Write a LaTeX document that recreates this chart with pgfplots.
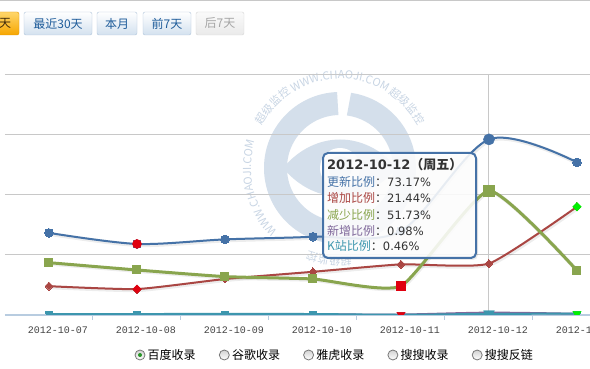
\documentclass[border=0pt]{standalone}
\usepackage{pgfplots}
\usepackage{pgfplotstable}
\pgfplotsset{compat=1.18}
\usepackage{fontspec}
\setmainfont{Liberation Sans}
\newfontfamily\cjk{Noto Sans CJK SC}
\newfontfamily\mono{Liberation Mono}
\newfontfamily\dv{DejaVu Sans}
\usetikzlibrary{decorations.text}
\definecolor{hcblue}{HTML}{4572A7}
\definecolor{hcred}{HTML}{AA4643}
\definecolor{hcgreen}{HTML}{89A54E}
\definecolor{hcpurple}{HTML}{80699B}
\definecolor{hcteal}{HTML}{3D96AE}
\definecolor{minred}{HTML}{E0000F}
\definecolor{maxgreen}{HTML}{00F000}
\definecolor{gridc}{HTML}{C8C8C8}
\definecolor{axisc}{HTML}{B8CCE0}
\definecolor{wm}{HTML}{D4DFEB}
\definecolor{wmt}{HTML}{C8D5E4}
\definecolor{btntext}{HTML}{1E5C9A}
\definecolor{btnborder}{HTML}{B0C4DA}
\definecolor{btnbot}{HTML}{D3E1EF}
\definecolor{labc}{HTML}{444444}
\definecolor{textc}{HTML}{333333}
\definecolor{orbord}{HTML}{E49600}
\definecolor{ortop}{HTML}{FFD66A}
\definecolor{orbot}{HTML}{F6A600}
\definecolor{ortext}{HTML}{3C280A}
\definecolor{disbord}{HTML}{D6D6D6}
\definecolor{distop}{HTML}{FAFAFA}
\definecolor{disbot}{HTML}{EAEAEA}
\definecolor{distext}{HTML}{A5A5A5}
\definecolor{radbord}{HTML}{787878}
\definecolor{radtop}{HTML}{D2D2D2}
\definecolor{raddot}{HTML}{289628}

\pgfplotstableread{
x blue red green purple teal
0 34.2 12.0 21.8 0.3 0.4
1 29.6 10.8 18.75 0.3 0.4
2 31.5 15.0 16.0 0.4 0.45
3 32.6 18.0 15.0 0.3 0.4
4 35.0 21.1 12.1 0.2 0.1
5 73.17 21.44 51.73 0.98 0.46
6 63.6 45.1 18.5 0.5 0.55
}\data

\begin{document}
\begin{tikzpicture}[x=1pt,y=1pt]
\useasboundingbox (0,0) rectangle (590,369);
\clip (0,0) rectangle (590,369);
\fill[white] (0,0) rectangle (590,369);
% top separator
\draw[gridc, line width=1pt] (0,368.5) -- (590,368.5);
% buttons
\draw[rounded corners=2pt, draw=orbord, top color=ortop, bottom color=orbot] (-8,334) rectangle (19,357);
\node[font=\cjk\fontsize{12}{12}\selectfont, text=ortext] at (5,345.5) {天};
\draw[rounded corners=2pt, draw=btnborder, top color=white, bottom color=btnbot] (24,334) rectangle (92,357);
\node[font=\cjk\fontsize{12}{12}\selectfont, text=btntext] at (58,345.5) {最近30天};
\draw[rounded corners=2pt, draw=btnborder, top color=white, bottom color=btnbot] (97,334) rectangle (137,357);
\node[font=\cjk\fontsize{12}{12}\selectfont, text=btntext] at (117,345.5) {本月};
\draw[rounded corners=2pt, draw=btnborder, top color=white, bottom color=btnbot] (143,334) rectangle (191,357);
\node[font=\cjk\fontsize{12}{12}\selectfont, text=btntext] at (167,345.5) {前7天};
\draw[rounded corners=2pt, draw=disbord, top color=distop, bottom color=disbot] (196,334) rectangle (244,357);
\node[font=\cjk\fontsize{12}{12}\selectfont, text=distext] at (220,345.5) {后7天};

% watermark
\begin{scope}[shift={(340,201)}]
  \draw[wm, line width=23pt] (92:64.5) arc (92:442:64.5);
  \fill[wm] (-57,0) .. controls (-25,38) and (25,38) .. (57,0) .. controls (25,-38) and (-25,-38) .. (-57,0) -- cycle;
  \fill[white] (0,0) circle (20);
  \fill[wm] (0,0) circle (12);
  \path[decorate, decoration={text along path, text align=center,
     text={|\cjk\fontsize{11}{11}\selectfont\color{wmt}|超级监控 WWW.CHAOJI.COM 超级监控}}]
     (160:89) arc (160:20:89);
  \path[decorate, decoration={text along path, text align=right,
     text={|\cjk\fontsize{11}{11}\selectfont\color{wmt}|WWW.CHAOJI.COM}}]
     (245:89) arc (245:162:89);
  \path[decorate, decoration={text along path, text align=right,
     text={|\cjk\fontsize{11}{11}\selectfont\color{wmt}|超级监控}}]
     (290:89) arc (290:249:89);
\end{scope}

% legend
\foreach \x/\t in {140/百度收录, 224.3/谷歌收录, 308.6/雅虎收录, 392.9/搜搜收录, 477.2/搜搜反链} {
  \draw[draw=radbord, line width=0.8pt, top color=radtop, bottom color=white] (\x,14) circle (5);
  \node[anchor=west, inner sep=0, font=\cjk\fontsize{12}{12}\selectfont] at (\x+7.5,14) {\t};
}
\fill[raddot] (140,14) circle (2);

\begin{axis}[
  at={(5pt,54pt)}, anchor=south west, scale only axis,
  width=616pt, height=240pt,
  xmin=-0.5, xmax=6.5, ymin=0, ymax=100,
  axis line style={draw=none},
  ytick={25,50,75,100}, yticklabels={}, ymajorgrids,
  grid style={gridc, line width=1pt},
  y tick style={draw=none},
  extra y ticks={0}, extra y tick labels={},
  extra y tick style={grid style={axisc, line width=1.5pt}},
  xtick={0,1,2,3,4,5,6},
  xticklabels={2012-10-07,2012-10-08,2012-10-09,2012-10-10,2012-10-11,2012-10-12,2012-10-13},
  x tick style={draw=none},
  tick pos=left, tick align=outside, major tick length=5pt,
  extra x ticks={0.5,1.5,2.5,3.5,4.5,5.5},
  extra x tick labels={},
  extra x tick style={x tick style={draw=axisc, line width=1pt}},
  xticklabel style={font=\mono\fontsize{10}{10}\selectfont, text=labc, xshift=9pt, yshift=-3pt},
  clip marker paths=true,
]
\draw[gridc, line width=1pt] (axis cs:5,0) -- (axis cs:5,100);
% shadows
\addplot[forget plot, smooth, draw=black, opacity=0.07, line width=4pt, xshift=1pt, yshift=-1pt] table[x=x,y=blue] {\data};
\addplot[forget plot, smooth, tension=0.3, draw=black, opacity=0.07, line width=4pt, xshift=1pt, yshift=-1pt] table[x=x,y=red] {\data};
\addplot[forget plot, smooth, tension=0.3, draw=black, opacity=0.07, line width=4pt, xshift=1pt, yshift=-1pt] table[x=x,y=green] {\data};
% series
\addplot[smooth, hcblue, line width=2pt, mark=*, mark size=4.3pt, mark options={solid, fill=hcblue, draw=hcblue, line width=0pt}] table[x=x,y=blue] {\data};
\addplot[forget plot, only marks, mark=*, mark size=4.5pt, mark options={fill=minred, draw=minred}] coordinates {(1,29.6)};
\addplot[forget plot, only marks, mark=*, mark size=5.6pt, mark options={fill=hcblue, draw=hcblue}] coordinates {(5,73.17)};

\addplot[smooth, tension=0.3, hcred, line width=2pt, mark=square*, mark size=2.8pt, mark options={solid, rotate=45, fill=hcred, draw=hcred, line width=0pt}] table[x=x,y=red] {\data};
\addplot[forget plot, only marks, mark=square*, mark size=3pt, mark options={rotate=45, fill=minred, draw=minred}] coordinates {(1,10.8)};
\addplot[forget plot, only marks, mark=square*, mark size=3pt, mark options={rotate=45, fill=maxgreen, draw=maxgreen}] coordinates {(6,45.1)};

\addplot[smooth, tension=0.3, hcgreen, line width=3pt, mark=square*, mark size=4pt, mark options={solid, fill=hcgreen, draw=hcgreen, line width=0pt}] table[x=x,y=green] {\data};
\addplot[forget plot, only marks, mark=square*, mark size=4.4pt, mark options={fill=minred, draw=minred}] coordinates {(4,12.1)};
\addplot[forget plot, only marks, mark=square*, mark size=5.5pt, mark options={fill=hcgreen, draw=hcgreen}] coordinates {(5,51.73)};

\addplot[smooth, hcpurple, line width=2pt] table[x=x,y=purple] {\data};

\addplot[smooth, hcteal, line width=2pt, mark=triangle*, mark size=4.6pt, mark options={solid, rotate=180, fill=hcteal, draw=hcteal, line width=0pt}] table[x=x,y=teal] {\data};
\addplot[forget plot, only marks, mark=triangle*, mark size=4.8pt, mark options={rotate=180, fill=minred, draw=minred}] coordinates {(4,0.1)};
\addplot[forget plot, only marks, mark=triangle*, mark size=6.3pt, mark options={rotate=180, fill=hcteal, draw=hcteal}] coordinates {(5,0.46)};
\addplot[forget plot, only marks, mark=triangle*, mark size=4.8pt, mark options={rotate=180, fill=maxgreen, draw=maxgreen}] coordinates {(6,0.55)};
\end{axis}

% tooltip
\fill[black, opacity=0.08, rounded corners=5pt] (325,109) rectangle (478,214);
\draw[hcblue, line width=2pt, fill=white, fill opacity=0.88, rounded corners=5pt] (323,111) rectangle (476,216);
\node[anchor=west, inner sep=0, text=textc] at (327,204) {\dv\bfseries\fontsize{13}{13}\selectfont 2012-10-12{\cjk\bfseries （周五）}};
\node[anchor=west, inner sep=0, font=\fontsize{12}{12}\selectfont] at (327,187) {{\cjk\color{hcblue}更新比例}{\cjk\color{textc}：}{\dv\fontsize{11.5}{12}\selectfont\color{textc}73.17\%}};
\node[anchor=west, inner sep=0, font=\fontsize{12}{12}\selectfont] at (327,171) {{\cjk\color{hcred}增加比例}{\cjk\color{textc}：}{\dv\fontsize{11.5}{12}\selectfont\color{textc}21.44\%}};
\node[anchor=west, inner sep=0, font=\fontsize{12}{12}\selectfont] at (327,154) {{\cjk\color{hcgreen}减少比例}{\cjk\color{textc}：}{\dv\fontsize{11.5}{12}\selectfont\color{textc}51.73\%}};
\node[anchor=west, inner sep=0, font=\fontsize{12}{12}\selectfont] at (327,138) {{\cjk\color{hcpurple}新增比例}{\cjk\color{textc}：}{\dv\fontsize{11.5}{12}\selectfont\color{textc}0.98\%}};
\node[anchor=west, inner sep=0, font=\fontsize{12}{12}\selectfont] at (327,123) {{\cjk\color{hcteal}K站比例}{\cjk\color{textc}：}{\dv\fontsize{11.5}{12}\selectfont\color{textc}0.46\%}};
\end{tikzpicture}
\end{document}
